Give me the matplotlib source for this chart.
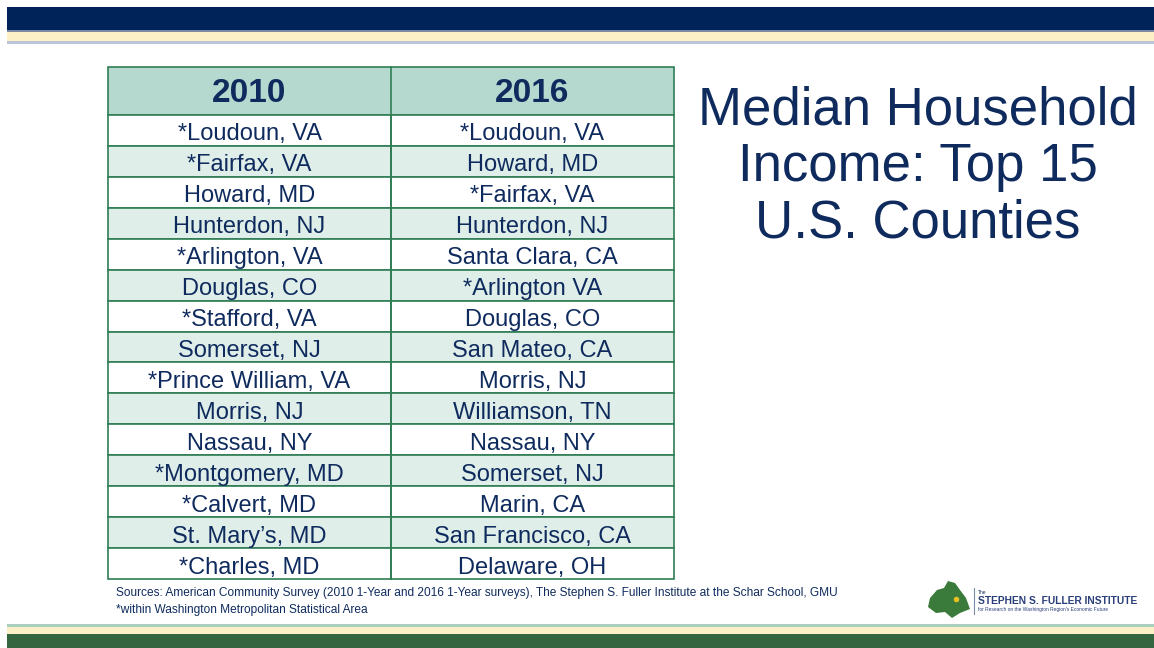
import matplotlib.pyplot as plt
from matplotlib.patches import Rectangle, Polygon

plt.rcParams['font.family'] = ['Liberation Sans', 'DejaVu Sans']

# table data
headers = ['2010', '2016']
counties_2010 = ['*Loudoun, VA', '*Fairfax, VA', 'Howard, MD', 'Hunterdon, NJ',
                 '*Arlington, VA', 'Douglas, CO', '*Stafford, VA', 'Somerset, NJ',
                 '*Prince William, VA', 'Morris, NJ', 'Nassau, NY', '*Montgomery, MD',
                 '*Calvert, MD', 'St. Mary\u2019s, MD', '*Charles, MD']
counties_2016 = ['*Loudoun, VA', 'Howard, MD', '*Fairfax, VA', 'Hunterdon, NJ',
                 'Santa Clara, CA', '*Arlington VA', 'Douglas, CO', 'San Mateo, CA',
                 'Morris, NJ', 'Williamson, TN', 'Nassau, NY', 'Somerset, NJ',
                 'Marin, CA', 'San Francisco, CA', 'Delaware, OH']
title = 'Median Household\nIncome: Top 15\nU.S. Counties'
sources = ['Sources: American Community Survey (2010 1-Year and 2016 1-Year surveys), '
           'The Stephen S. Fuller Institute at the Schar School, GMU',
           '*within Washington Metropolitan Statistical Area']

navy = '#0f2b5e'
border = '#2f7d55'
head_bg = '#b5d8cf'
alt_bg = '#dfeee9'

fig = plt.figure(figsize=(11.54, 6.48), dpi=100)
ax = fig.add_axes([0, 0, 1, 1])
ax.set_xlim(0, 1154)
ax.set_ylim(648, 0)
ax.axis('off')

# top banner
ax.add_patch(Rectangle((7, 7), 1147, 23, color='#00245a', lw=0))
ax.add_patch(Rectangle((7, 30), 1147, 2, color='#7c8aa6', lw=0))
ax.add_patch(Rectangle((7, 32), 1147, 9, color='#fdf0c6', lw=0))
ax.add_patch(Rectangle((7, 41), 1147, 3, color='#bcc5d9', lw=0))

# bottom banner
ax.add_patch(Rectangle((7, 624), 1147, 3, color='#a9cfc0', lw=0))
ax.add_patch(Rectangle((7, 627), 1147, 7, color='#fdf0c6', lw=0))
ax.add_patch(Rectangle((7, 634), 1147, 14, color='#34663f', lw=0))

# table
x0, xm, x1 = 108, 391, 674
y_head0, y_head1 = 67, 115
n = len(counties_2010)
row_h = (579 - y_head1) / n

ax.add_patch(Rectangle((x0, y_head0), x1 - x0, y_head1 - y_head0,
                       facecolor=head_bg, edgecolor=border, lw=1.2))
for j, h in enumerate(headers):
    cx = (x0 + xm) / 2 if j == 0 else (xm + x1) / 2
    ax.text(cx, (y_head0 + y_head1) / 2 + 3, h, ha='center', va='center',
            fontsize=24, fontweight='bold', color=navy)

for i in range(n):
    y = y_head1 + i * row_h
    fc = 'white' if i % 2 == 0 else alt_bg
    ax.add_patch(Rectangle((x0, y), xm - x0, row_h, facecolor=fc, edgecolor=border, lw=1.2))
    ax.add_patch(Rectangle((xm, y), x1 - xm, row_h, facecolor=fc, edgecolor=border, lw=1.2))
    ax.text((x0 + xm) / 2, y + row_h / 2 + 4, counties_2010[i], ha='center', va='center',
            fontsize=17, color=navy)
    ax.text((xm + x1) / 2, y + row_h / 2 + 4, counties_2016[i], ha='center', va='center',
            fontsize=17, color=navy)
ax.plot([xm, xm], [y_head0, 579], color=border, lw=1.2)

# title
ax.text(918, 167, title, ha='center', va='center', fontsize=38, color=navy,
        linespacing=1.16)

# sources
ax.text(116, 593, sources[0], ha='left', va='center', fontsize=8.6, color=navy)
ax.text(116, 610, sources[1], ha='left', va='center', fontsize=8.6, color=navy)

# logo
ax.add_patch(Polygon([(930, 598), (937, 590), (944, 588), (948, 581), (955, 583),
                      (960, 590), (966, 598), (970, 609), (960, 613), (952, 618),
                      (945, 612), (936, 613), (928, 607)],
                     closed=True, color='#3a7a3a', lw=0))
ax.plot([956], [599], marker='o', ms=3, color='#e8c020')
ax.plot([974, 974], [588, 614], color='#7a8aa8', lw=0.8)
ax.text(978, 592, 'The', fontsize=3.5, color=navy, va='center')
ax.text(978, 601, 'STEPHEN S. FULLER INSTITUTE', fontsize=7.4, fontweight='bold',
        color='#2a3f7a', va='center')
ax.text(978, 610, "for Research on the Washington Region's Economic Future",
        fontsize=3.5, color='#2a3f7a', va='center')

fig.savefig('out.png', dpi=100)
